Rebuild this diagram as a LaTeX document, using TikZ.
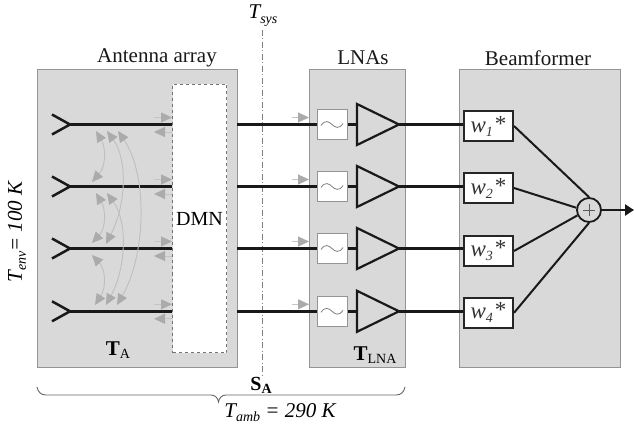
\documentclass[tikz,border=0pt]{standalone}
\usepackage{fontspec}
\setmainfont{Liberation Serif}
\usetikzlibrary{arrows.meta,shapes.geometric,calc}
\newcommand{\fsz}[1]{\fontsize{#1}{#1}\selectfont}
\newcommand{\lowsub}[2]{\raisebox{-#1pt}{\fsz{14}#2}}
\definecolor{panel}{gray}{0.85}
\definecolor{edgegray}{gray}{0.58}
\definecolor{ghead}{gray}{0.67}
\definecolor{gcurve}{gray}{0.75}
\tikzset{
  panelbox/.style={draw=edgegray,fill=panel,line width=1pt,inner sep=0pt,anchor=north west},
  title/.style={font=\fsz{21},text=black!90,inner sep=0pt},
  sig/.style={line width=2.7pt,black!90},
  chev/.style={line width=2.5pt,black!90,line join=miter},
  filt/.style={draw=edgegray,fill=white,line width=1pt,minimum width=30pt,minimum height=30pt,inner sep=0pt},
  amp/.style={draw=black!90,fill=panel,line width=2.2pt,isosceles triangle,isosceles triangle stretches,shape border rotate=0,minimum width=41pt,minimum height=42pt,inner sep=0pt,outer sep=0pt},
  weight/.style={draw=black!85,fill=white,line width=2pt,minimum width=49pt,minimum height=30.5pt,inner sep=0pt,font=\fsz{23}\itshape,text=black!80},
  sumline/.style={line width=2pt,black!90},
  lead/.style={ghead!70!white,line width=.9pt,-{Triangle[length=11pt,width=10pt,fill=ghead,color=ghead]}},
  couple/.style={gcurve,line width=.9pt,{Triangle[length=11pt,width=10pt,fill=ghead,color=ghead]}-{Triangle[length=11pt,width=10pt,fill=ghead,color=ghead]}},
}
\begin{document}
\begin{tikzpicture}[x=1pt,y=-1pt]
\useasboundingbox (0,0) rectangle (634,430);
\fill[white] (0,0) rectangle (634,430);
% panels
\node[panelbox,minimum width=200pt,minimum height=298pt] (ant) at (37,69) {};
\node[panelbox,minimum width=96pt,minimum height=298pt] (lnas) at (309,69) {};
\node[panelbox,minimum width=161pt,minimum height=298pt] (bf) at (459,69) {};
\node[draw=black!55,dashed,fill=white,line width=1pt,minimum width=54pt,minimum height=268pt,inner sep=0pt,anchor=north west,font=\fsz{20}] (dmn) at (172,84) {DMN};
% titles
\node[title] (t1) at (157,58) {Antenna array};
\node[title] (t2) at (363,58) {LNAs};
\node[title] (t3) at (538,58) {Beamformer};
% reference plane
\coordinate (ptop) at (262,30);
\coordinate (pbot) at (262,375);
\draw[gray,line width=.7pt,dash pattern=on 6pt off 2.5pt on 1pt off 2.5pt] (ptop) -- (pbot);
\node[inner sep=0pt,font=\fsz{21}\itshape] (tsys) at (263,16) {T\lowsub{5}{sys}};
% chains
\foreach \i/\y/\wy in {1/124.5/126,2/186.5/188,3/248.5/251,4/311.3/312.8}{
  \coordinate (tip\i) at (70,\y);
  \coordinate (ca\i) at (52,\y-10);
  \coordinate (cb\i) at (52,\y+10);
  \draw[chev] (ca\i) -- (tip\i) -- (cb\i);
  \coordinate (dm\i) at (172,\y);
  \coordinate (do\i) at (237,\y);
  \draw[sig] (tip\i) -- (dm\i);
  \node[filt] (f\i) at (332,\y) {};
  \draw[sig] (do\i) -- (f\i.west);
  \draw[gray,line width=.8pt] ($(f\i.center)+(-11,1)$) .. controls ($(f\i.center)+(-7,-5)$) and ($(f\i.center)+(-3,-3)$) .. (f\i.center) .. controls ($(f\i.center)+(3,3)$) and ($(f\i.center)+(7,5)$) .. ($(f\i.center)+(11,-1)$);
  \node[amp,anchor=west] (a\i) at (357,\y) {};
  \draw[sig] (f\i.east) -- (a\i.west);
  \node[weight] (w\i) at (488.5,\wy) {w\lowsub{4}{\i}\hspace{2pt}\raisebox{1pt}{\upshape *}};
  \draw[sig] (a\i.east) -- (a\i.east -| w\i.west);
  % lead arrows
  \coordinate (ls\i) at (154,\y-7);
  \coordinate (le\i) at (172,\y-7);
  \coordinate (rs\i) at (172,\y+7.5);
  \coordinate (re\i) at (154,\y+7.5);
  \coordinate (ns\i) at (292,\y-7);
  \coordinate (ne\i) at (309,\y-7);
  \draw[lead] (ls\i) -- (le\i);
  \draw[lead] (rs\i) -- (re\i);
  \draw[lead] (ns\i) -- (ne\i);
}
% summer
\node[circle,draw=black!90,fill=panel,line width=1.8pt,minimum size=24pt,inner sep=0pt] (sum) at (589,210) {};
\draw[gray!70!black,line width=.6pt] ($(sum.center)+(-6,0)$) -- ($(sum.center)+(6,0)$) ($(sum.center)+(0,-6)$) -- ($(sum.center)+(0,6)$);
\draw[sumline] (w1.east) -- (sum.north);
\draw[sumline] (w2.east) -- (sum.170);
\draw[sumline] (w3.east) -- (sum.205);
\draw[sumline] (w4.east) -- (sum.south);
\coordinate (outp) at (634,210);
\draw[sig,-{Triangle[length=9pt,width=11pt]}] (sum.east) -- (outp);
% coupling curves
\coordinate (k1a) at (96,131);  \coordinate (k1b) at (92,182);
\coordinate (k2a) at (107,131); \coordinate (k2b) at (106,244);
\coordinate (k3a) at (118,131); \coordinate (k3b) at (117,305);
\coordinate (k4a) at (96,193);  \coordinate (k4b) at (92,243);
\coordinate (k5a) at (107,193); \coordinate (k5b) at (106,305);
\coordinate (k6a) at (92,255);  \coordinate (k6b) at (95,305);
\draw[couple] (k1a) .. controls (106,148) and (106,166) .. (k1b);
\draw[couple] (k2a) .. controls (128,160) and (126,205) .. (k2b);
\draw[couple] (k3a) .. controls (148,175) and (146,255) .. (k3b);
\draw[couple] (k4a) .. controls (106,210) and (106,228) .. (k4b);
\draw[couple] (k5a) .. controls (128,222) and (126,268) .. (k5b);
\draw[couple] (k6a) .. controls (106,270) and (106,288) .. (k6b);
% labels
\node[inner sep=0pt,font=\fsz{21}] (ta) at (118,350) {\textbf{T}\lowsub{3}{A}};
\node[inner sep=0pt,font=\fsz{21}] (tl) at (375,355) {\textbf{T}\lowsub{3}{LNA}};
\node[inner sep=0pt,font=\fsz{20}\bfseries] (sa) at (261,385) {S\lowsub{3}{\bfseries A}};
\node[inner sep=0pt,font=\fsz{21}\itshape] (tamb) at (280,412.5) {T\lowsub{4}{amb} = 290 K};
\node[inner sep=0pt,font=\fsz{21}\itshape,rotate=90] (tenv) at (17,232) {T\lowsub{4}{env}= 100 K};
% brace
\coordinate (bl) at (37,387);
\coordinate (br) at (405,387);
\draw[gray!80!black,line width=.9pt] (bl) .. controls (38,392) and (41,395) .. (46,395) -- (211,395) .. controls (215,395) and (218,398) .. (218.5,402) .. controls (219,398) and (222,395) .. (226,395) -- (396,395) .. controls (401,395) and (404,392) .. (br);
\end{tikzpicture}
\end{document}
